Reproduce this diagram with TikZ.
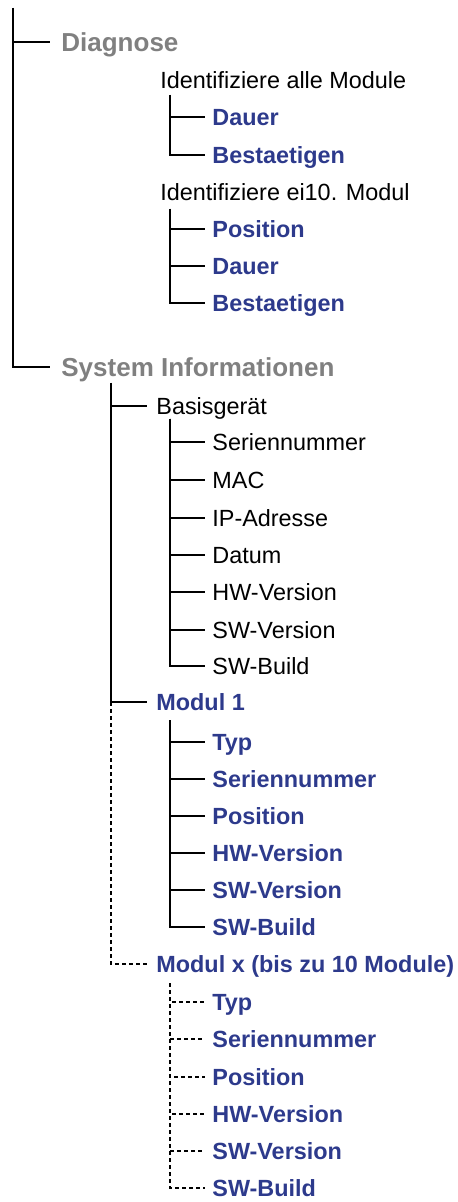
\documentclass[tikz,border=0pt]{standalone}
\usepackage{fontspec}
\setmainfont{Liberation Sans}
\usepackage{color}
\usepackage{tikz}
\usetikzlibrary{positioning}

\definecolor{menuGrey}{HTML}{808080}
\definecolor{menuBlue}{HTML}{2D3A8C}

\begin{document}
\begin{tikzpicture}[
    x=0.5pt, y=-0.5pt,
    entry/.style={anchor=west, inner xsep=3.5pt, inner ysep=0pt,
        text height=8.3pt, text depth=0pt,
        font=\fontsize{11.7}{13}\selectfont},
    head/.style={entry, inner xsep=5.5pt, text height=9.3pt,
        font=\fontsize{13}{15}\selectfont\bfseries, text=menuGrey},
    param/.style={entry, font=\fontsize{11.7}{13}\selectfont\bfseries, text=menuBlue},
    branch/.style={line width=1.35pt},
    optional/.style={line width=1.35pt, dash pattern=on 2pt off 1.5pt},
    ]
    \useasboundingbox (0,0) rectangle (458,1202);

    \coordinate (trunkTop) at (13,8);
    \node[head] (diag) at (50,42) {Diagnose};
    \node[head] (sysInfo) at (50,367) {System Informationen};

    \node[entry, inner xsep=0pt] (identAll) at (160,80) {Identifiziere alle Module};
    \coordinate (identAllRoot) at (170,95);
    \node[param] (dauerA) at (205,117) {Dauer};
    \node[param] (bestA) at (205,155) {Bestaetigen};

    \node[entry, inner xsep=0pt] (identOne) at (160,192) {Identifiziere ei10. Modul};
    \coordinate (identOneRoot) at (170,209);
    \node[param] (posB) at (205,229) {Position};
    \node[param] (dauerB) at (205,266) {Dauer};
    \node[param] (bestB) at (205,303) {Bestaetigen};

    \coordinate (sysRoot) at (111,383);
    \node[entry, inner xsep=4.5pt] (basis) at (147,406) {Basisgerät};
    \coordinate (basisRoot) at (170,419);
    \node[entry] (basisSerial) at (205,442) {Seriennummer};
    \node[entry] (basisMac) at (205,480) {MAC};
    \node[entry] (basisIp) at (205,518) {IP-Adresse};
    \node[entry] (basisDate) at (205,555) {Datum};
    \node[entry] (basisHw) at (205,592) {HW-Version};
    \node[entry] (basisSw) at (205,630) {SW-Version};
    \node[entry] (basisBuild) at (205,666) {SW-Build};

    \node[param, inner xsep=4.5pt] (modulOne) at (147,702) {Modul 1};
    \coordinate (modulOneRoot) at (170,720);
    \node[param] (oneTyp) at (205,742) {Typ};
    \node[param] (oneSerial) at (205,779) {Seriennummer};
    \node[param] (onePos) at (205,816) {Position};
    \node[param] (oneHw) at (205,853) {HW-Version};
    \node[param] (oneSw) at (205,890) {SW-Version};
    \node[param] (oneBuild) at (205,927) {SW-Build};

    \node[param, inner xsep=4.5pt] (modulX) at (147,964) {Modul x (bis zu 10 Module)};
    \coordinate (modulXRoot) at (170,983);
    \node[param] (xTyp) at (205,1002) {Typ};
    \node[param] (xSerial) at (205,1039) {Seriennummer};
    \node[param] (xPos) at (205,1077) {Position};
    \node[param] (xHw) at (205,1114) {HW-Version};
    \node[param] (xSw) at (205,1151) {SW-Version};
    \node[param] (xBuild) at (205,1188) {SW-Build};

    \draw[branch] (trunkTop) |- (diag.west);
    \draw[branch] (trunkTop) |- (sysInfo.west);

    \draw[branch] (identAllRoot) |- (dauerA.west);
    \draw[branch] (identAllRoot) |- (bestA.west);
    \draw[branch] (identOneRoot) |- (posB.west);
    \draw[branch] (identOneRoot) |- (dauerB.west);
    \draw[branch] (identOneRoot) |- (bestB.west);

    \draw[branch] (sysRoot) |- (basis.west);
    \draw[branch] (sysRoot) |- (modulOne.west);
    \draw[optional] (sysRoot |- modulOne.west) |- (modulX.west);

    \draw[branch] (basisRoot) |- (basisSerial.west);
    \draw[branch] (basisRoot) |- (basisMac.west);
    \draw[branch] (basisRoot) |- (basisIp.west);
    \draw[branch] (basisRoot) |- (basisDate.west);
    \draw[branch] (basisRoot) |- (basisHw.west);
    \draw[branch] (basisRoot) |- (basisSw.west);
    \draw[branch] (basisRoot) |- (basisBuild.west);

    \draw[branch] (modulOneRoot) |- (oneTyp.west);
    \draw[branch] (modulOneRoot) |- (oneSerial.west);
    \draw[branch] (modulOneRoot) |- (onePos.west);
    \draw[branch] (modulOneRoot) |- (oneHw.west);
    \draw[branch] (modulOneRoot) |- (oneSw.west);
    \draw[branch] (modulOneRoot) |- (oneBuild.west);

    \draw[optional] (modulXRoot) |- (xTyp.west);
    \draw[optional] (modulXRoot) |- (xSerial.west);
    \draw[optional] (modulXRoot) |- (xPos.west);
    \draw[optional] (modulXRoot) |- (xHw.west);
    \draw[optional] (modulXRoot) |- (xSw.west);
    \draw[optional] (modulXRoot) |- (xBuild.west);
\end{tikzpicture}
\end{document}
